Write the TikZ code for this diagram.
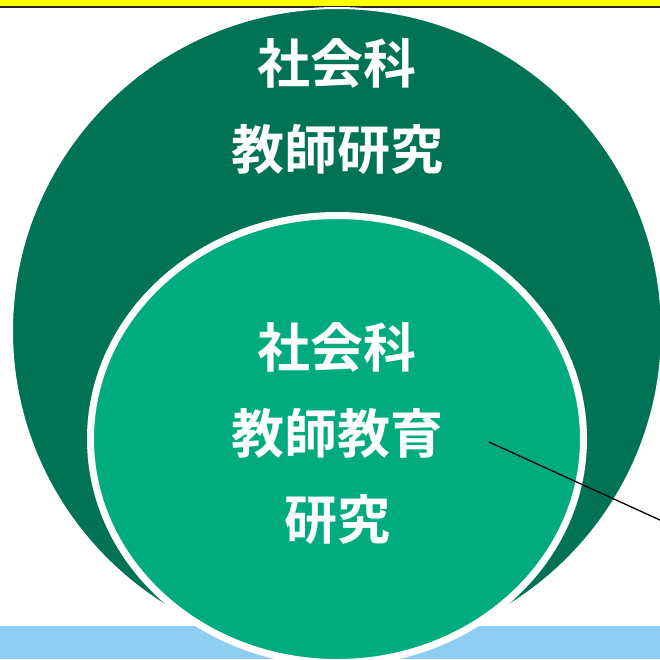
\documentclass[tikz,border=0pt]{standalone}
\usepackage{fontspec}
\newfontfamily\jp[BoldFont={Noto Sans CJK JP Bold}]{Noto Sans CJK JP}
\definecolor{outergreen}{HTML}{007354}
\definecolor{innergreen}{HTML}{00AC7E}
\definecolor{barblue}{HTML}{8ECEF3}
\definecolor{baryellow}{HTML}{FFFF00}
\tikzset{
  label text/.style={text=white, font=\jp\bfseries\fontsize{53}{86}\selectfont, align=center, inner sep=0pt},
}
\begin{document}
\begin{tikzpicture}[x=1pt,y=-1pt]
\useasboundingbox (0,0) rectangle (660,659);
\fill[white] (0,0) rectangle (660,659);
% bars
\fill[baryellow] (0,0) rectangle (660,6.5);
\fill[black!85] (0,6.2) rectangle (660,8.2);
\fill[barblue] (0,626) rectangle (660,659);
% outer circle
\draw[white, line width=2, fill=outergreen] (337,331) ellipse [x radius=325, y radius=323];
% inner circle
\draw[white, line width=7, fill=innergreen] (337,439) ellipse [x radius=246.5, y radius=223.5];
% texts
\node[label text] (outer) at (337,107) {社会科\\教師研究};
\node[label text] (inner) at (337,434) {社会科\\教師教育\\研究};
% pointer line
\coordinate (pstart) at (489,442);
\coordinate (pend) at (661,520.5);
\draw[black, line width=1.3] (pstart) -- (pend);
\end{tikzpicture}
\end{document}
